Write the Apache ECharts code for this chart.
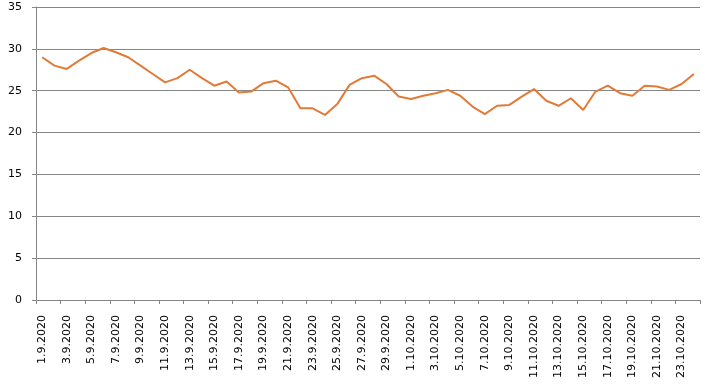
<!DOCTYPE html>
<html><head><meta charset="utf-8">
<script src="https://cdn.jsdelivr.net/npm/echarts@6/dist/echarts.min.js"></script>
<style>html,body{margin:0;padding:0;background:#fff}#c{width:705px;height:385px}</style>
</head><body><div id="c"></div>
<script>
var categories = [];
for (var d = 1; d <= 30; d++) categories.push(d + '.9.2020');
for (var d2 = 1; d2 <= 24; d2++) categories.push(d2 + '.10.2020');
var values = [29.0, 28.0, 27.6, 28.6, 29.5, 30.1, 29.6, 29.0, 28.0, 27.0,
  26.0, 26.5, 27.5, 26.5, 25.6, 26.1, 24.8, 24.9, 25.9, 26.2,
  25.4, 22.9, 22.9, 22.1, 23.4, 25.7, 26.5, 26.8, 25.8, 24.3,
  24.0, 24.4, 24.7, 25.1, 24.4, 23.1, 22.2, 23.2, 23.3, 24.3,
  25.2, 23.8, 23.2, 24.1, 22.7, 24.9, 25.6, 24.7, 24.4, 25.6,
  25.5, 25.1, 25.8, 27.0];
var chart = echarts.init(document.getElementById('c'), null, {renderer: 'canvas'});
chart.setOption({
  animation: false,
  grid: {left: 36, right: 5, top: 7, bottom: 85},
  xAxis: {
    type: 'category', data: categories, boundaryGap: true,
    axisLine: {lineStyle: {color: '#868686', width: 1}},
    axisTick: {show: true, interval: 1, length: 4, lineStyle: {color: '#868686'}},
    axisLabel: {interval: 1, rotate: 90, color: '#000', fontFamily: 'DejaVu Sans', fontSize: 11, margin: 15}
  },
  yAxis: {
    type: 'value', min: 0, max: 35, interval: 5,
    axisLine: {show: true, lineStyle: {color: '#868686', width: 1}},
    axisTick: {show: true, length: 4, lineStyle: {color: '#868686'}},
    splitLine: {lineStyle: {color: '#868686', width: 1}},
    axisLabel: {color: '#000', fontFamily: 'DejaVu Sans', fontSize: 11, margin: 14}
  },
  series: [{
    type: 'line', data: values, symbol: 'none',
    lineStyle: {color: '#E07B39', width: 2}
  }]
});
</script></body></html>
